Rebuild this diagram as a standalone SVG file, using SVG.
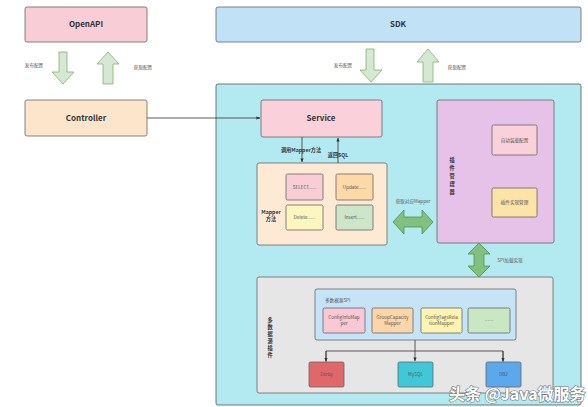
<svg xmlns="http://www.w3.org/2000/svg" width="588" height="407" viewBox="0 0 588 407">
<style>
text{font-family:"Noto Sans CJK SC","Liberation Sans",sans-serif;fill:#333}
.t{font-size:8px;font-weight:bold;text-anchor:middle}
.s{font-size:4.6px;text-anchor:middle;fill:#555}
.sb{font-size:5.2px;font-weight:bold;text-anchor:middle;fill:#333}
.box{stroke:#666;stroke-width:0.8}
.ln{stroke:#333;stroke-width:0.8;fill:none}
.fa{fill:#d5e8d4;stroke:#82b366;stroke-width:0.8}
.da{fill:#82c07f;stroke:#4f8f4c;stroke-width:0.8}
</style>
<defs>
<marker id="ah" viewBox="0 0 10 10" refX="9" refY="5" markerWidth="5" markerHeight="5" orient="auto"><path d="M0,1 L10,5 L0,9 z" fill="#333"/></marker>
</defs>
<rect width="588" height="407" fill="#fff"/>
<g id="container"><rect x="216" y="84" width="365" height="321" rx="2" fill="#b3eaf2" stroke="#555" stroke-width="0.8"/></g>
<g id="openapi"><rect class="box" x="25" y="7" width="122" height="35" rx="2" fill="#f8cdd6"/><text class="t" x="86" y="27">OpenAPI</text></g>
<g id="sdk"><rect class="box" x="216" y="7" width="365" height="35" rx="2" fill="#c1e1f6"/><text class="t" x="398" y="27">SDK</text></g>
<g id="controller"><rect class="box" x="25" y="100" width="122" height="36" rx="2" fill="#fde5cc"/><text class="t" x="86" y="121">Controller</text></g>
<g id="service"><rect class="box" x="261" y="100" width="121" height="37" rx="2" fill="#fad0da"/><text class="t" x="321" y="121">Service</text></g>
<g id="mapper"><rect class="box" x="257" y="163" width="130" height="82" rx="2" fill="#fde9d4"/>
<text class="sb" x="271" y="214">Mapper</text><text class="sb" x="271" y="221">方法</text>
<rect class="box" x="286" y="174" width="37" height="26" rx="1.5" fill="#f8cdd6"/><text class="s" x="304.5" y="188.5">SELECT......</text>
<rect class="box" x="336" y="174" width="37" height="26" rx="1.5" fill="#fcd9a6"/><text class="s" x="354.5" y="188.5">Update......</text>
<rect class="box" x="286" y="205" width="37" height="25" rx="1.5" fill="#fdf6bf"/><text class="s" x="304.5" y="219">Delete......</text>
<rect class="box" x="336" y="205" width="37" height="25" rx="1.5" fill="#cde6c8"/><text class="s" x="354.5" y="219">Insert......</text>
</g>
<g id="plugin-manager"><rect class="box" x="437" y="100" width="117" height="143" rx="2" fill="#e6c1e8"/>
<text class="sb" x="452" y="162">插</text><text class="sb" x="452" y="170">件</text><text class="sb" x="452" y="178">管</text><text class="sb" x="452" y="186">理</text><text class="sb" x="452" y="194">器</text>
<rect class="box" x="492" y="125" width="45" height="30" rx="1.5" fill="#fad0da"/><text class="s" x="514.5" y="141.5">自动装载配置</text>
<rect class="box" x="492" y="188" width="45" height="29" rx="1.5" fill="#fde3a8"/><text class="s" x="514.5" y="204">插件实现管理</text>
</g>
<g id="plugin-area"><rect class="box" x="257" y="277" width="296" height="116" rx="2" fill="#e6e6e6"/>
<text class="sb" x="270" y="322">多</text><text class="sb" x="270" y="329">数</text><text class="sb" x="270" y="336">据</text><text class="sb" x="270" y="343">源</text><text class="sb" x="270" y="350">插</text><text class="sb" x="270" y="357">件</text>
</g>
<g id="spi"><rect class="box" x="315" y="289" width="201" height="51" rx="2" fill="#c6e4f8"/>
<text class="s" x="325" y="302" style="text-anchor:start">多数据源SPI</text>
<rect class="box" x="323" y="308" width="42" height="25" rx="1.5" fill="#f8c8d4"/><text class="s" x="344" y="319">ConfigInfoMap</text><text class="s" x="344" y="325">per</text>
<rect class="box" x="372" y="308" width="41" height="25" rx="1.5" fill="#fcd5a8"/><text class="s" x="392.5" y="319">GroupCapacity</text><text class="s" x="392.5" y="325">Mapper</text>
<rect class="box" x="421" y="308" width="41" height="25" rx="1.5" fill="#fdf5b0"/><text class="s" x="441.5" y="319">ConfigTagsRela</text><text class="s" x="441.5" y="325">tionMapper</text>
<rect class="box" x="468" y="308" width="42" height="25" rx="1.5" fill="#c9e7c2"/><text class="s" x="489" y="322">……</text>
</g>
<g id="derby"><rect class="box" x="309" y="362" width="35" height="25" rx="1.5" fill="#e06868"/><text class="s" x="326.5" y="376">Derby</text></g>
<g id="mysql"><rect class="box" x="398" y="362" width="35" height="25" rx="1.5" fill="#40c8d8"/><text class="s" x="415.5" y="376">MySQL</text></g>
<g id="db2"><rect class="box" x="486" y="362" width="35" height="25" rx="1.5" fill="#5ca8ec"/><text class="s" x="503.5" y="376">DB2</text></g>
<g id="connectors">
<path class="fa" d="M59,52 H67 V72 H74 L63,84 L52,72 H59 Z"/>
<path class="fa" d="M108,52 L119,64 H113 V84 H103 V64 H97 Z"/>
<text class="s" x="34" y="67">发布配置</text>
<text class="s" x="143" y="69">获取配置</text>
<path class="fa" d="M366,49 H374 V70 H382 L371,82 L360,70 H366 Z"/>
<path class="fa" d="M428,49 L439,62 H433 V82 H423 V62 H417 Z"/>
<text class="s" x="343" y="67">发布配置</text>
<text class="s" x="457" y="69">获取配置</text>
<path class="ln" d="M147,118 H260" marker-end="url(#ah)"/>
<path class="ln" d="M302,137 V162" marker-end="url(#ah)"/>
<path class="ln" d="M338,163 V138" marker-end="url(#ah)"/>
<text class="sb" x="301" y="152">调用Mapper方法</text>
<text class="sb" x="338" y="157">返回SQL</text>
<path class="da" d="M393,222 L404,210 V217 H422 V210 L433,222 L422,234 V227 H404 V234 Z"/>
<text class="s" x="413" y="203">获取对应Mapper</text>
<path class="da" d="M479,243 L490,254 H484 V266 H490 L479,277 L468,266 H474 V254 H468 Z"/>
<text class="s" x="510" y="262">SPI加载实现</text>
<path class="ln" d="M415,340 V361" marker-end="url(#ah)"/>
<path class="ln" d="M326,361 V351 H503 V361"/>
<path class="ln" d="M326,351 V361.5" marker-end="url(#ah)"/>
<path class="ln" d="M503,351 V361.5" marker-end="url(#ah)"/>
</g>
<text x="449" y="400" style="font-family:'Noto Sans CJK SC',sans-serif;font-size:16px;font-weight:bold;fill:#fff;stroke:#777;stroke-width:1.2;paint-order:stroke">头条 @Java微服务</text>
</svg>
